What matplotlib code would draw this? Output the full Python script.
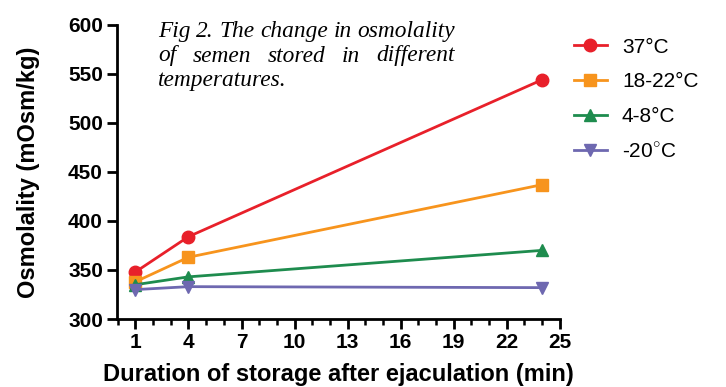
import numpy as np
import matplotlib.pyplot as plt
from matplotlib.ticker import MultipleLocator

# datos
tiempo = [1, 4, 24]
t37 = [348, 384, 544]
t18_22 = [338, 363, 437]
t4_8 = [335, 343, 370]
t_menos20 = [330, 333, 332]

series = [
    (t37, '37°C', '#E8202A', 'o'),
    (t18_22, '18-22°C', '#F7941D', 's'),
    (t4_8, '4-8°C', '#1E8C4E', '^'),
    (t_menos20, '-20$^{\\circ}$C', '#6E68B0', 'v'),
]

plt.rcParams['font.family'] = ['Liberation Sans', 'DejaVu Sans']
plt.rcParams['mathtext.fontset'] = 'custom'
plt.rcParams['mathtext.rm'] = 'Liberation Sans'

fig = plt.figure(figsize=(7.26, 3.87), dpi=100)
ax = fig.add_axes([0.161, 0.1757, 0.610, 0.760])

for valores, nombre, color, marcador in series:
    ax.plot(tiempo, valores, color=color, marker=marcador, markersize=9,
            linewidth=2, label=nombre, clip_on=False)

ax.set_xlim(-0.05, 25)
ax.set_ylim(300, 600)
ax.xaxis.set_minor_locator(MultipleLocator(1))
ax.set_xticks([1, 4, 7, 10, 13, 16, 19, 22, 25])
ax.yaxis.set_major_locator(MultipleLocator(50))

for lado in ['top', 'right']:
    ax.spines[lado].set_visible(False)
for lado in ['left', 'bottom']:
    ax.spines[lado].set_linewidth(2)
ax.tick_params(which='major', width=2, length=7, labelsize=15, pad=3)
ax.tick_params(which='minor', width=1.8, length=4.5)
for lab in ax.get_xticklabels() + ax.get_yticklabels():
    lab.set_fontweight('bold')

ax.set_xlabel('Duration of storage after ejaculation (min)', fontsize=17,
              fontweight='bold', labelpad=8)
ax.set_ylabel('Osmolality (mOsm/kg)', fontsize=17, fontweight='bold', labelpad=20)

ax.legend(loc='upper left', bbox_to_anchor=(0.989, 1.02), frameon=False,
          fontsize=15, handlelength=1.6, handletextpad=0.72, labelspacing=0.75)

# titulo en cursiva, justificado a mano
estilo = dict(family=['Liberation Serif', 'DejaVu Serif'], style='italic', fontsize=13,
              transform=fig.transFigure, va='baseline')
x0, x1 = 158 / 726, 455 / 726
lineas = ['Fig 2. The change in osmolality',
          'of semen stored in different',
          'temperatures.']
renderer = fig.canvas.get_renderer()

def ancho(texto, est):
    t = fig.text(0, 0, texto, **est)
    w = t.get_window_extent(renderer).width / fig.bbox.width
    t.remove()
    return w

# ajustar el tamano para que la primera linea ocupe el ancho
estilo['fontsize'] = estilo['fontsize'] * (x1 - x0) / ancho(lineas[0], estilo)

for i, linea in enumerate(lineas):
    y = 1 - (37 + i * 24.5) / 387
    if i == len(lineas) - 1:
        fig.text(x0, y, linea, **estilo)
        continue
    palabras = linea.split()
    anchos = [ancho(p, estilo) for p in palabras]
    hueco = (x1 - x0 - sum(anchos)) / (len(palabras) - 1)
    x = x0
    for p, w in zip(palabras, anchos):
        fig.text(x, y, p, **estilo)
        x += w + hueco

fig.savefig('out.png', dpi=100)
